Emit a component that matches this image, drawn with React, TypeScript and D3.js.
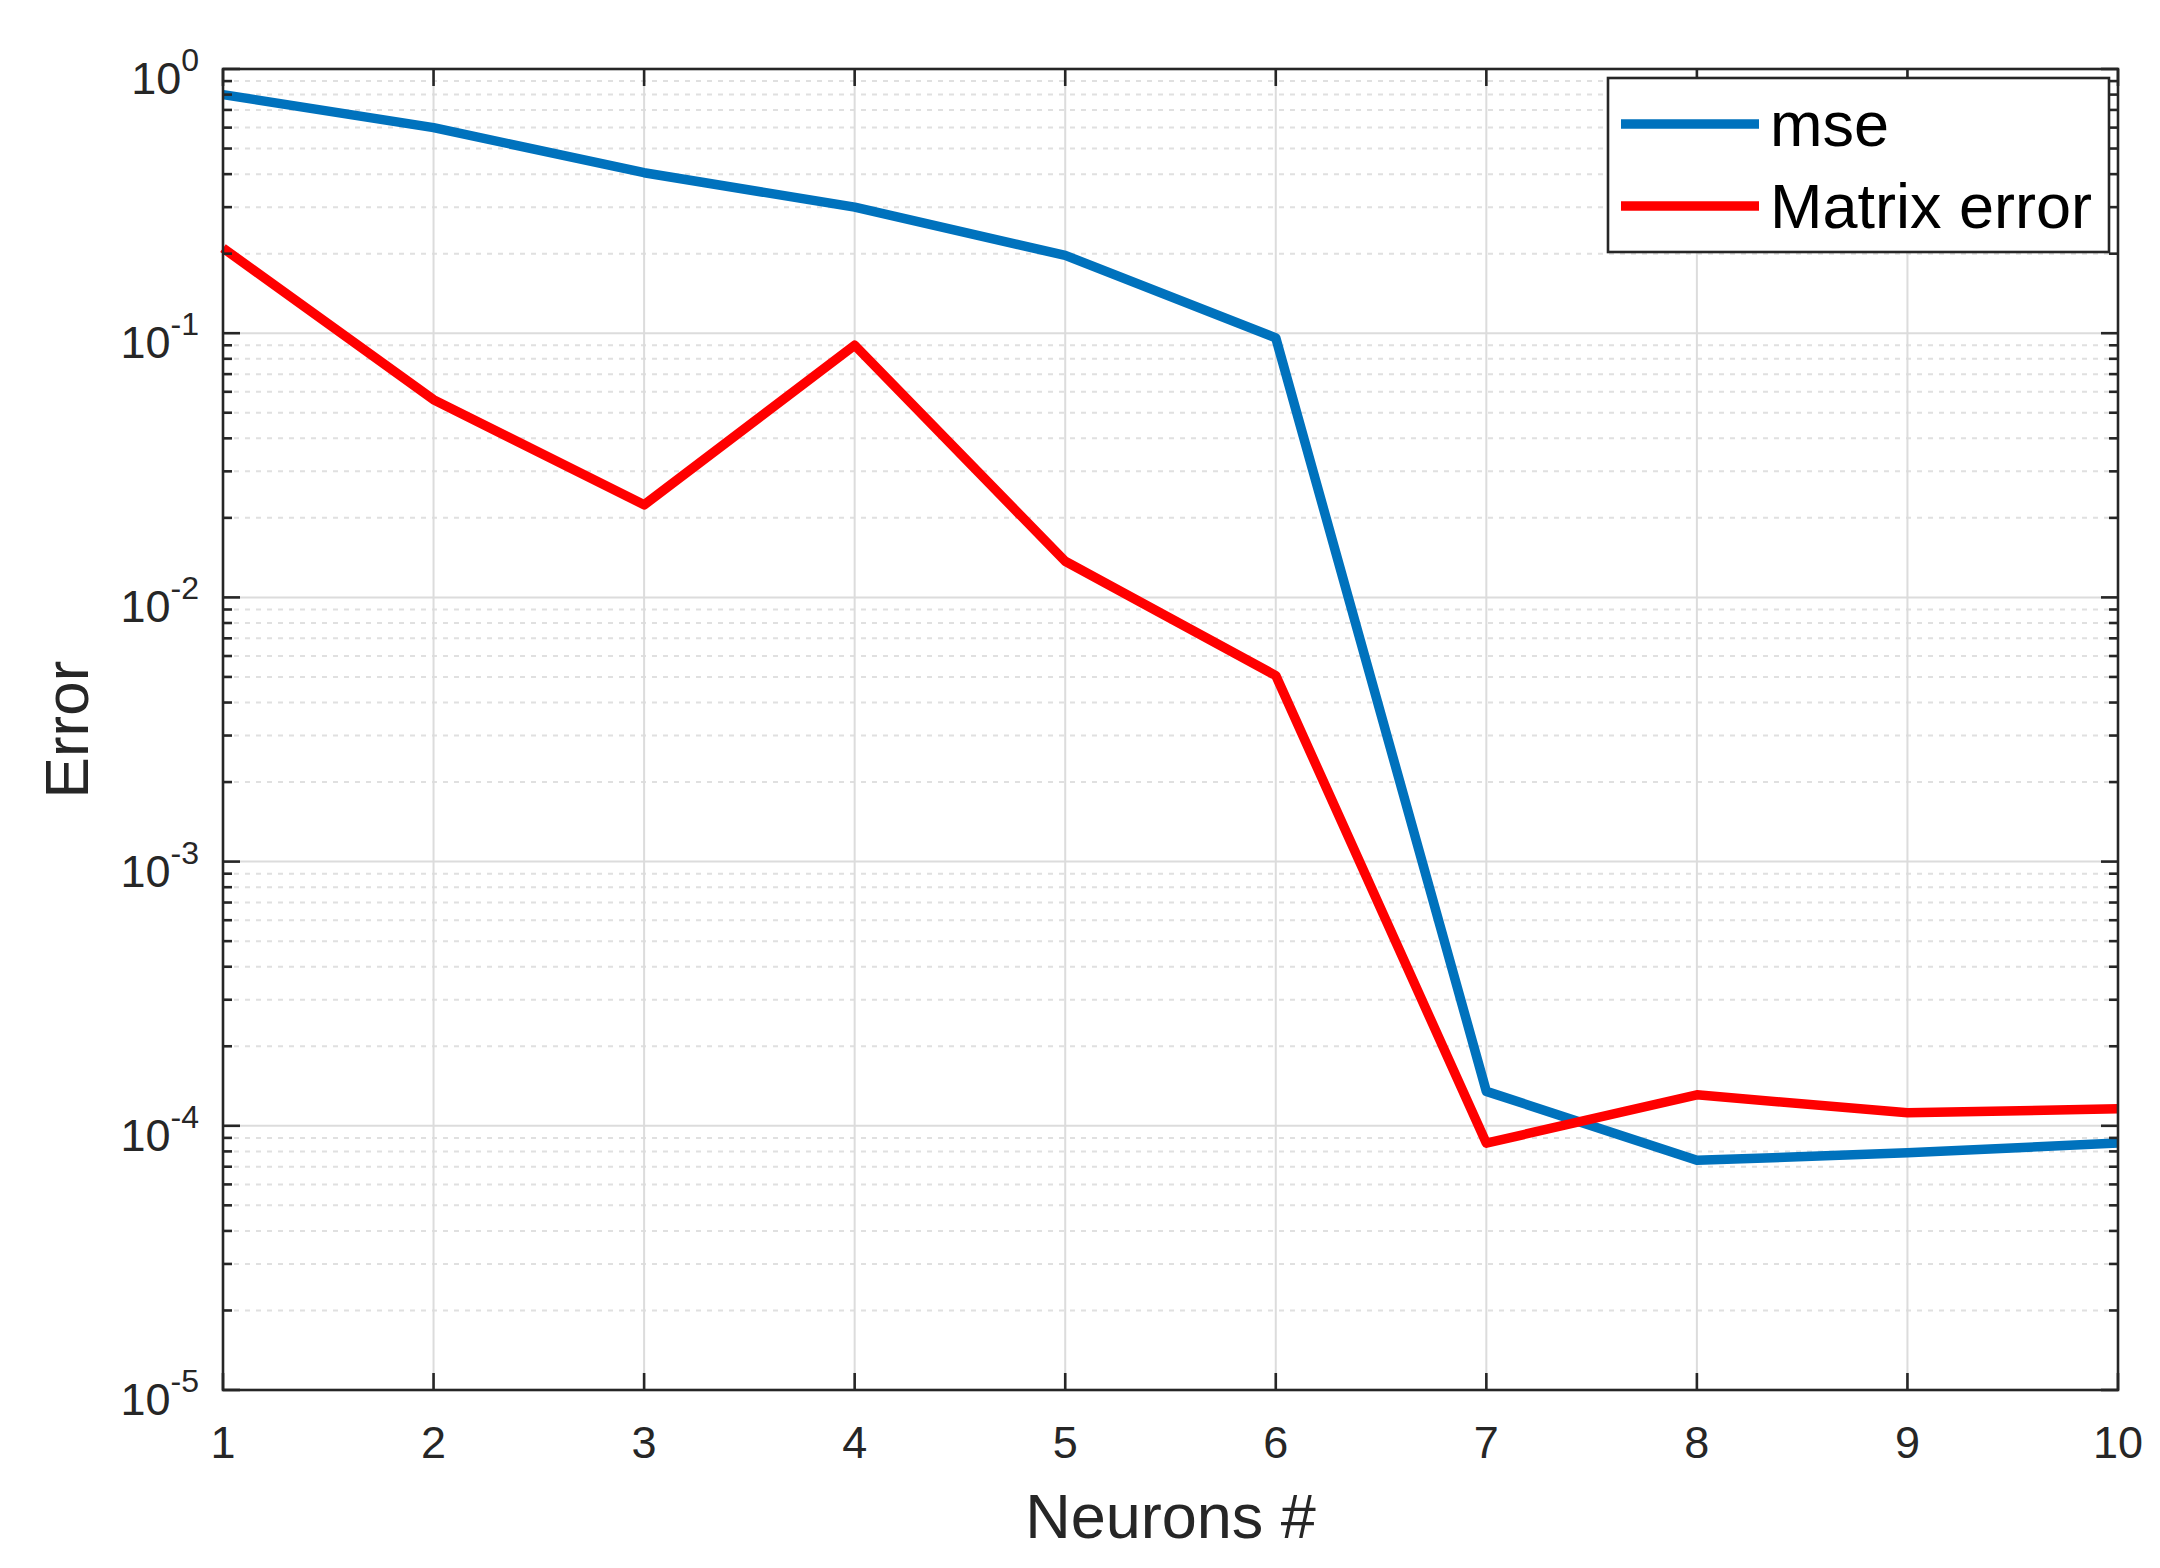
import React, { useEffect, useRef } from 'react';
import * as d3 from 'd3';

// neurons on the x axis, error values
const neurons = [1, 2, 3, 4, 5, 6, 7, 8, 9, 10];
const mseValues = [0.80, 0.60, 0.405, 0.30, 0.197, 0.096, 1.35e-4, 7.4e-5, 7.9e-5, 8.6e-5];
const matrixErrorValues = [0.21, 0.056, 0.0224, 0.090, 0.0137, 0.00506, 8.6e-5, 1.31e-4, 1.12e-4, 1.16e-4];
const yExponents = [-5, -4, -3, -2, -1, 0];
const seriesNames = ['mse', 'Matrix error'];
const seriesColors = ['#0072BD', '#FF0000'];

const App = () => {
  const chartRef = useRef<SVGSVGElement>(null);

  useEffect(() => {
    drawChart();
  }, []);

  const drawChart = () => {
    const width = 2160;
    const height = 1568;
    const margin = { top: 69, right: 42, bottom: 178, left: 223 };
    const font = 'Arial, "Liberation Sans", Helvetica, sans-serif';
    const axisColor = '#262626';
    const lineWidth = 9.5;

    const svg = d3.select(chartRef.current)
      .attr('width', width)
      .attr('height', height);
    svg.selectAll('*').remove();

    svg.append('rect').attr('width', width).attr('height', height).attr('fill', '#fff');

    const x = d3.scaleLinear()
      .domain([1, 10])
      .range([margin.left, width - margin.right]);

    const y = d3.scaleLog()
      .domain([1e-5, 1])
      .range([height - margin.bottom, margin.top]);

    const [x0, x1] = x.range();
    const [y0, y1] = y.range();

    // minor values 2..9 x 10^k
    const minorVals: number[] = [];
    yExponents.slice(0, -1).forEach(e => {
      for (let m = 2; m <= 9; m++) minorVals.push(m * Math.pow(10, e));
    });
    const majorVals = yExponents.map(e => Math.pow(10, e));

    const grid = svg.append('g');
    grid.selectAll('.minor')
      .data(minorVals)
      .enter()
      .append('line')
      .attr('x1', x0).attr('x2', x1)
      .attr('y1', d => y(d)).attr('y2', d => y(d))
      .attr('stroke', '#e0e0e0')
      .attr('stroke-width', 2)
      .attr('stroke-dasharray', '5,6');

    grid.selectAll('.major')
      .data(majorVals.slice(1, -1))
      .enter()
      .append('line')
      .attr('x1', x0).attr('x2', x1)
      .attr('y1', d => y(d)).attr('y2', d => y(d))
      .attr('stroke', '#dcdcdc')
      .attr('stroke-width', 2);

    grid.selectAll('.vgrid')
      .data(neurons.slice(1, -1))
      .enter()
      .append('line')
      .attr('x1', d => x(d)).attr('x2', d => x(d))
      .attr('y1', y0).attr('y2', y1)
      .attr('stroke', '#dcdcdc')
      .attr('stroke-width', 2);

    // series lines
    const series = [mseValues, matrixErrorValues];
    const line = d3.line<number>()
      .x((_, i) => x(neurons[i]))
      .y(d => y(d));

    series.forEach((vals, i) => {
      svg.append('path')
        .datum(vals)
        .attr('fill', 'none')
        .attr('stroke', seriesColors[i])
        .attr('stroke-width', lineWidth)
        .attr('stroke-linejoin', 'round')
        .attr('d', line);
    });

    // axes box
    const axes = svg.append('g').attr('stroke', axisColor).attr('stroke-width', 2.6);
    axes.append('rect')
      .attr('x', x0).attr('y', y1)
      .attr('width', x1 - x0).attr('height', y0 - y1)
      .attr('fill', 'none');

    // x ticks (bottom and top, inward)
    neurons.forEach(n => {
      axes.append('line').attr('x1', x(n)).attr('x2', x(n)).attr('y1', y0).attr('y2', y0 - 17);
      axes.append('line').attr('x1', x(n)).attr('x2', x(n)).attr('y1', y1).attr('y2', y1 + 17);
    });

    // y ticks (left and right, inward)
    majorVals.forEach(v => {
      axes.append('line').attr('x1', x0).attr('x2', x0 + 17).attr('y1', y(v)).attr('y2', y(v));
      axes.append('line').attr('x1', x1).attr('x2', x1 - 17).attr('y1', y(v)).attr('y2', y(v));
    });
    minorVals.forEach(v => {
      axes.append('line').attr('x1', x0).attr('x2', x0 + 9).attr('y1', y(v)).attr('y2', y(v));
      axes.append('line').attr('x1', x1).attr('x2', x1 - 9).attr('y1', y(v)).attr('y2', y(v));
    });

    // x tick labels
    svg.append('g')
      .selectAll('text')
      .data(neurons)
      .enter()
      .append('text')
      .attr('x', d => x(d))
      .attr('y', y0 + 68)
      .attr('text-anchor', 'middle')
      .attr('font-family', font)
      .attr('font-size', 45)
      .attr('fill', axisColor)
      .text(d => d);

    // y tick labels 10^k
    const yLabels = svg.append('g')
      .selectAll('text')
      .data(yExponents)
      .enter()
      .append('text')
      .attr('x', x0 - 24)
      .attr('y', d => y(Math.pow(10, d)) + 25)
      .attr('text-anchor', 'end')
      .attr('font-family', font)
      .attr('fill', axisColor);
    yLabels.append('tspan').attr('font-size', 45).text('10');
    yLabels.append('tspan').attr('font-size', 32).attr('dy', -23).text(d => `${d}`);

    // axis titles
    svg.append('text')
      .attr('x', (x0 + x1) / 2)
      .attr('y', 1538)
      .attr('text-anchor', 'middle')
      .attr('font-family', font)
      .attr('font-size', 63)
      .attr('fill', axisColor)
      .text('Neurons #');

    svg.append('text')
      .attr('transform', `translate(88, ${(y0 + y1) / 2}) rotate(-90)`)
      .attr('text-anchor', 'middle')
      .attr('font-family', font)
      .attr('font-size', 62)
      .attr('fill', axisColor)
      .text('Error');

    // legend
    const lg = svg.append('g');
    lg.append('rect')
      .attr('x', 1608).attr('y', 78)
      .attr('width', 501).attr('height', 174)
      .attr('fill', '#fff')
      .attr('stroke', axisColor)
      .attr('stroke-width', 2.6);
    seriesNames.forEach((name, i) => {
      const ly = 124 + i * 82;
      lg.append('line')
        .attr('x1', 1621).attr('x2', 1759)
        .attr('y1', ly).attr('y2', ly)
        .attr('stroke', seriesColors[i])
        .attr('stroke-width', lineWidth);
      lg.append('text')
        .attr('x', 1770)
        .attr('y', ly + 22)
        .attr('font-family', font)
        .attr('font-size', 63)
        .attr('fill', '#000')
        .text(name);
    });
  };

  return (
    <svg ref={chartRef} style={{ position: 'absolute', left: 0, top: 0 }}></svg>
  );
};

export default App;
